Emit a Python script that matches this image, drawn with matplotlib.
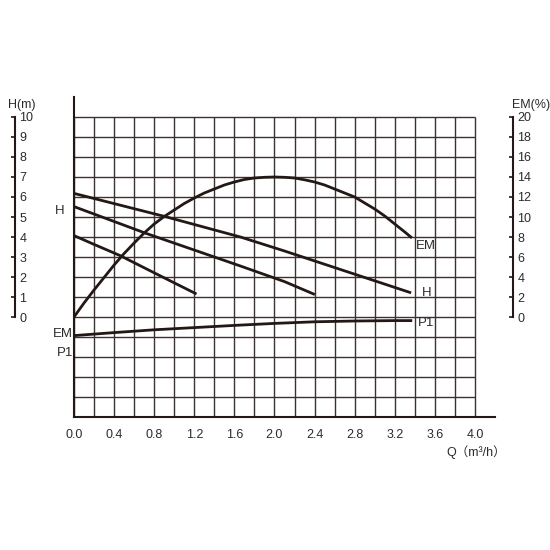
import numpy as np
import matplotlib
matplotlib.use("Agg")
import matplotlib.pyplot as plt

plt.rcParams['font.family'] = ['Liberation Sans', 'Noto Sans CJK SC', 'DejaVu Sans']

# flow Q (m3/h) vs head H (m), three speed settings
q_h1 = [0.0, 0.2, 0.46, 0.8, 1.21]
h1 = [4.07, 3.63, 3.07, 2.21, 1.18]
q_h2 = [0.0, 0.72, 1.66, 2.10, 2.39]
h2 = [5.52, 4.18, 2.55, 1.77, 1.15]
q_h3 = [0.0, 0.91, 1.66, 2.10, 3.35]
h3 = [6.18, 5.02, 4.0, 3.3, 1.23]

# efficiency EM (%)
q_em = [0.0, 0.1, 0.2, 0.3, 0.4, 0.5, 0.6, 0.7, 0.8, 0.9, 1.0, 1.1, 1.2, 1.3, 1.4, 1.5, 1.6, 1.7,
        1.8, 1.9, 2.0, 2.1, 2.2, 2.3, 2.4, 2.5, 2.6, 2.7, 2.8, 2.9, 3.0, 3.1, 3.2, 3.3, 3.36]
em = [0.0, 1.4, 2.7, 3.95, 5.2, 6.35, 7.4, 8.4, 9.3, 10.05, 10.7, 11.35, 11.9, 12.4, 12.8, 13.2, 13.5, 13.75,
      13.9, 13.97, 14.0, 13.97, 13.9, 13.72, 13.5, 13.2, 12.8, 12.4, 12.0, 11.4, 10.8, 10.1, 9.3, 8.5, 8.0]

# power P1 (no scale, drawn on the grid)
q_p1 = [0.0, 0.4, 0.8, 1.2, 1.6, 2.0, 2.4, 2.8, 3.2, 3.36]
p1 = [-0.93, -0.78, -0.64, -0.53, -0.42, -0.32, -0.24, -0.2, -0.18, -0.18]

x_labels = ['0.0', '0.4', '0.8', '1.2', '1.6', '2.0', '2.4', '2.8', '3.2', '3.6', '4.0']
h_ticks = list(range(0, 11))
em_ticks = list(range(0, 21, 2))

ink = '#231815'
grid_c = '#3b3230'
txt = '#2e2a2a'
fs = 9

fig = plt.figure(figsize=(5.5, 5.5), dpi=100)
ax = fig.add_axes([74 / 550, 133 / 550, 421 / 550, 320 / 550])
ax.set_xlim(0, 4.2)
ax.set_ylim(-5, 11)

# grid
gx = np.arange(0, 4.01, 0.2)
gy = np.arange(-5, 10.5, 1)
ax.vlines(gx, -5, 10, color=grid_c, lw=1.0, zorder=1)
ax.hlines(gy, 0, 4.0, color=grid_c, lw=1.0, zorder=1)

for s in ['top', 'right']:
    ax.spines[s].set_visible(False)
ax.spines['left'].set_linewidth(1.5)
ax.spines['bottom'].set_linewidth(1.5)
ax.spines['left'].set_color(ink)
ax.spines['bottom'].set_color(ink)
ax.set_xticks(np.arange(0, 4.01, 0.4))
ax.set_xticklabels(x_labels, fontsize=fs, color=txt)
ax.tick_params(axis='x', length=0, pad=9)
ax.set_yticks([])

ax.plot(q_h1, h1, color=ink, lw=2, zorder=3)
ax.plot(q_h2, h2, color=ink, lw=2, zorder=3)
ax.plot(q_h3, h3, color=ink, lw=2, zorder=3)
ax.plot(q_p1, p1, color=ink, lw=2, zorder=3)

ax_em = ax.twinx()
ax_em.set_ylim(-10, 22)
ax_em.axis('off')
ax_em.plot(q_em, em, color=ink, lw=2, zorder=3)

# curve labels
ax.text(3.41, 3.55, 'EM', fontsize=9.5, color=txt, va='center')
ax.text(3.47, 1.2, 'H', fontsize=9.5, color=txt, va='center')
ax.text(3.43, -0.3, 'P1', fontsize=9.5, color=txt, va='center')
ax.text(-0.09, 5.3, 'H', fontsize=9.5, color=txt, va='center', ha='right')
ax.text(-0.01, -0.85, 'EM', fontsize=9.5, color=txt, va='center', ha='right')
ax.text(-0.01, -1.8, 'P1', fontsize=9.5, color=txt, va='center', ha='right')

# side scales
def side_scale(xpix, ymax, ticks):
    s = fig.add_axes([xpix / 550, 233 / 550, 0.0001, 200 / 550])
    s.set_ylim(0, ymax)
    for k in ['top', 'bottom', 'left']:
        s.spines[k].set_visible(False)
    s.spines['right'].set_linewidth(1.5)
    s.spines['right'].set_color(ink)
    s.set_xticks([])
    s.set_yticks(ticks)
    s.tick_params(axis='y', left=False, right=True, labelleft=False, labelright=True,
                  direction='in', length=3, width=1.2, pad=3, labelsize=fs,
                  color=ink, labelcolor=txt)
    s.patch.set_visible(False)
    return s

side_scale(15, 10, h_ticks)
side_scale(513, 20, em_ticks)

fig.text(22 / 550, 1 - 105 / 550, 'H(m)', fontsize=fs, color=txt, ha='center', va='center')
fig.text(531 / 550, 1 - 105 / 550, 'EM(%)', fontsize=fs, color=txt, ha='center', va='center')
fig.text(506 / 550, 1 - 452 / 550, 'Q（m³/h）', fontsize=fs, color=txt, ha='right', va='center')

fig.savefig('out.png', dpi=100, facecolor='white')
